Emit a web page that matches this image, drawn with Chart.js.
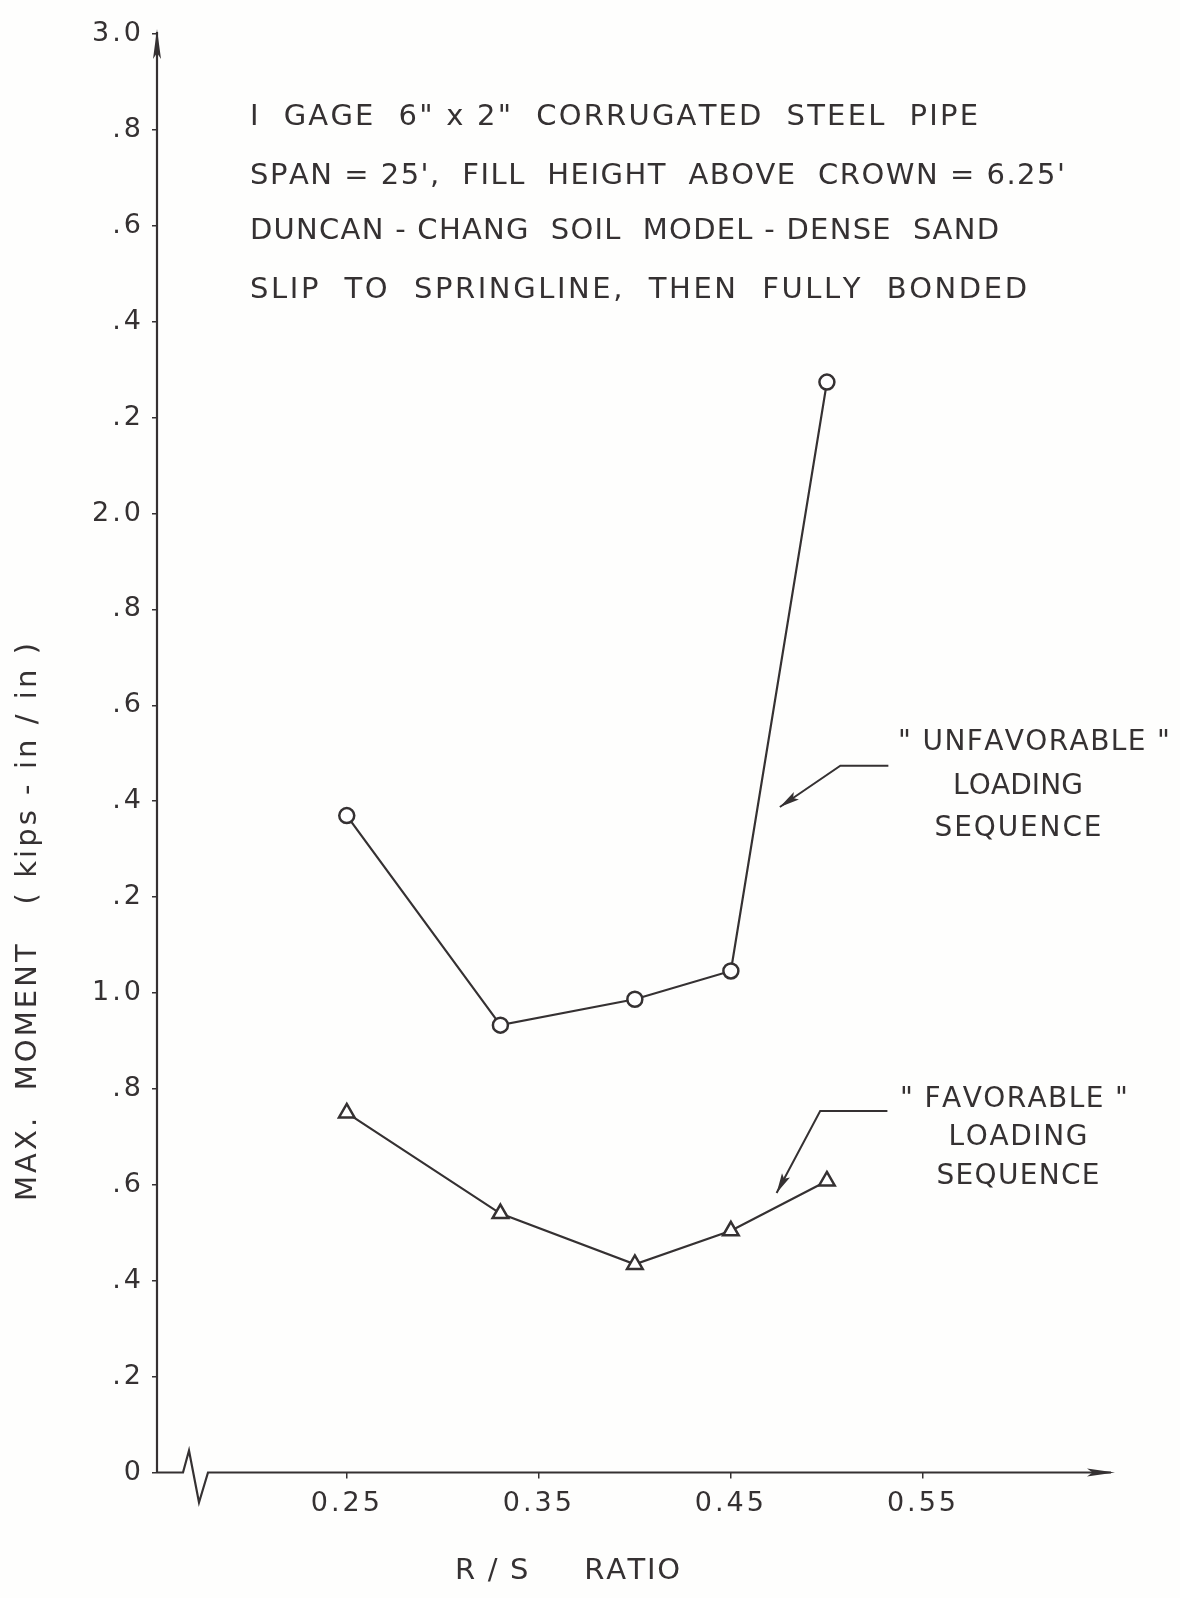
<!DOCTYPE html>
<html>
<head>
<meta charset="utf-8">
<script src="https://cdn.jsdelivr.net/npm/chart.js@4.4.0/dist/chart.umd.min.js"></script>
<style>
  html, body { margin: 0; padding: 0; background: #fefefd; overflow: hidden; }
  canvas { display: block; }
</style>
</head>
<body>
<canvas id="myChart" width="1180" height="1598"></canvas>
<script>
// values
const rsRatio = [0.25, 0.33, 0.40, 0.45, 0.50];
const unfavorableMoment = [1.37, 0.933, 0.987, 1.046, 2.274];
const favorableMoment = [0.75, 0.54, 0.434, 0.504, 0.608];

const xTickValues = [0.25, 0.35, 0.45, 0.55];
const xTickLabels = ['0.25', '0.35', '0.45', '0.55'];
const yTickValues = [0, 0.2, 0.4, 0.6, 0.8, 1.0, 1.2, 1.4, 1.6, 1.8, 2.0, 2.2, 2.4, 2.6, 2.8, 3.0];
const yTickLabels = ['0', '.2', '.4', '.6', '.8', '1.0', '.2', '.4', '.6', '.8', '2.0', '.2', '.4', '.6', '.8', '3.0'];

const headerLines = [
  'I  GAGE  6" x 2"  CORRUGATED  STEEL  PIPE',
  'SPAN = 25\',  FILL  HEIGHT  ABOVE  CROWN = 6.25\'',
  'DUNCAN - CHANG  SOIL  MODEL - DENSE  SAND',
  'SLIP  TO  SPRINGLINE,  THEN  FULLY  BONDED'
];
const unfavorableLabel = ['" UNFAVORABLE "', 'LOADING', 'SEQUENCE'];
const favorableLabel = ['" FAVORABLE "', 'LOADING', 'SEQUENCE'];
const xTitle = 'R / S     RATIO';
const yTitle = 'MAX.  MOMENT   ( kips - in / in )';

const ink = '#353132';
const FONT = '"DejaVu Sans", "Liberation Sans", sans-serif';

const pts = (xs, ys) => xs.map((x, i) => ({ x: x, y: ys[i] }));

// draw text stretched to a given width by spreading the letters
function spaced(ctx, text, x, y, width, align) {
  const chars = [...text];
  let natural = 0;
  chars.forEach(c => natural += ctx.measureText(c).width);
  const extra = chars.length > 1 ? (width - natural) / (chars.length - 1) : 0;
  let cx = align === 'center' ? x - width / 2 : x;
  ctx.textAlign = 'left';
  chars.forEach(c => {
    ctx.fillText(c, cx, y);
    cx += ctx.measureText(c).width + extra;
  });
}

function arrowHead(ctx, tipX, tipY, fromX, fromY, len, half) {
  const a = Math.atan2(tipY - fromY, tipX - fromX);
  ctx.beginPath();
  ctx.moveTo(tipX, tipY);
  ctx.lineTo(tipX - len * Math.cos(a) + half * Math.sin(a), tipY - len * Math.sin(a) - half * Math.cos(a));
  ctx.lineTo(tipX - len * Math.cos(a) * 0.8, tipY - len * Math.sin(a) * 0.8);
  ctx.lineTo(tipX - len * Math.cos(a) - half * Math.sin(a), tipY - len * Math.sin(a) + half * Math.cos(a));
  ctx.closePath();
  ctx.fill();
}

// leader arrows in data units: [end, knee, tip]
const unfavorableLeader = [[0.532, 1.474], [0.507, 1.474], [0.4755, 1.388]];
const favorableLeader = [[0.5315, 0.754], [0.4965, 0.754], [0.4738, 0.583]];

const sketch = {
  id: 'sketch',
  beforeDraw(chart) {
    // wider lettering for the tick labels
    chart.ctx.letterSpacing = '3px';
  },
  beforeDatasetsDraw(chart) {
    const ctx = chart.ctx;
    ctx.letterSpacing = '0px';
    const xs = chart.scales.x, ys = chart.scales.y;
    const left = xs.left, bottom = ys.bottom;
    ctx.save();
    ctx.strokeStyle = ink;
    ctx.fillStyle = ink;
    ctx.lineWidth = 2.2;
    ctx.lineJoin = 'miter';
    // y axis with arrow
    ctx.beginPath();
    ctx.moveTo(left, bottom);
    ctx.lineTo(left, ys.top - 2);
    ctx.stroke();
    arrowHead(ctx, left, ys.top - 5, left, bottom, 30, 4);
    // x axis with break mark
    ctx.beginPath();
    ctx.moveTo(left, bottom);
    ctx.lineTo(left + 26, bottom);
    ctx.lineTo(left + 32, bottom - 22);
    ctx.lineTo(left + 42, bottom + 30);
    ctx.lineTo(left + 51, bottom);
    ctx.lineTo(xs.right - 4, bottom);
    ctx.stroke();
    arrowHead(ctx, xs.right, bottom, left, bottom, 28, 4);
    ctx.restore();
  },
  afterDraw(chart) {
    const ctx = chart.ctx;
    ctx.letterSpacing = '0px';
    const xs = chart.scales.x, ys = chart.scales.y;
    ctx.save();
    ctx.fillStyle = ink;
    ctx.strokeStyle = ink;
    ctx.textBaseline = 'middle';

    ctx.font = '29px ' + FONT;
    const headerY = [117, 176, 231, 290];
    const headerW = [728, 815, 749, 777];
    headerLines.forEach((t, i) => spaced(ctx, t, 250, headerY[i], headerW[i], 'left'));

    ctx.font = '28px ' + FONT;
    const unfY = [743, 787, 829];
    const unfW = [272, 130, 167];
    const unfX = [1034, 1018, 1018];
    unfavorableLabel.forEach((t, i) => spaced(ctx, t, unfX[i], unfY[i], unfW[i], 'center'));
    const favY = [1100, 1138, 1177];
    const favW = [228, 139, 163];
    const favX = [1014, 1018, 1018];
    favorableLabel.forEach((t, i) => spaced(ctx, t, favX[i], favY[i], favW[i], 'center'));

    // leader arrows
    ctx.lineWidth = 2;
    [unfavorableLeader, favorableLeader].forEach(ld => {
      const p = ld.map(d => [xs.getPixelForValue(d[0]), ys.getPixelForValue(d[1])]);
      ctx.beginPath();
      ctx.moveTo(p[0][0], p[0][1]);
      ctx.lineTo(p[1][0], p[1][1]);
      ctx.lineTo(p[2][0], p[2][1]);
      ctx.stroke();
      arrowHead(ctx, p[2][0], p[2][1], p[1][0], p[1][1], 20, 4.5);
    });

    // axis titles
    ctx.font = '29px ' + FONT;
    spaced(ctx, xTitle, 455, 1571, 225, 'left');
    ctx.translate(28, 922);
    ctx.rotate(-Math.PI / 2);
    spaced(ctx, yTitle, 0, 0, 558, 'center');
    ctx.restore();
  }
};

const ctx = document.querySelector('#myChart');
const chart = new Chart(ctx, {
  type: 'scatter',
  data: {
    datasets: [
      {
        label: 'Unfavorable',
        data: pts(rsRatio, unfavorableMoment),
        showLine: true,
        borderColor: ink,
        borderWidth: 2.2,
        pointStyle: 'circle',
        pointRadius: 7.5,
        pointBorderWidth: 2.5,
        pointBorderColor: ink,
        pointBackgroundColor: '#ffffff'
      },
      {
        label: 'Favorable',
        data: pts(rsRatio, favorableMoment),
        showLine: true,
        borderColor: ink,
        borderWidth: 2.2,
        pointStyle: 'triangle',
        pointRadius: 9,
        pointBorderWidth: 2.5,
        pointBorderColor: ink,
        pointBackgroundColor: '#ffffff'
      },
      {
        label: 'centres',
        data: pts(rsRatio, unfavorableMoment).concat(pts(rsRatio, favorableMoment)),
        showLine: false,
        pointStyle: 'circle',
        pointRadius: 1.6,
        pointBorderWidth: 0,
        pointBackgroundColor: ink
      }
    ]
  },
  options: {
    responsive: false,
    animation: false,
    devicePixelRatio: 1,
    layout: { padding: { top: 34, right: 65, left: 0, bottom: 0 } },
    plugins: {
      legend: { display: false },
      tooltip: { enabled: false }
    },
    scales: {
      x: {
        type: 'linear',
        min: 0.1512,
        max: 0.65,
        afterFit: s => { s.height = 125.5; },
        afterBuildTicks: s => { s.ticks = xTickValues.map(v => ({ value: v })); },
        grid: { drawOnChartArea: false, drawTicks: true, tickLength: 6, color: ink, lineWidth: 1.5 },
        border: { display: false },
        ticks: {
          autoSkip: false,
          maxRotation: 0,
          padding: 9,
          color: ink,
          font: { family: FONT, size: 27 },
          callback: (v, i) => xTickLabels[i]
        }
      },
      y: {
        type: 'linear',
        min: 0,
        max: 3.0,
        afterFit: s => { s.width = 157; },
        afterBuildTicks: s => { s.ticks = yTickValues.map(v => ({ value: v })); },
        grid: { drawOnChartArea: false, drawTicks: true, tickLength: 5, color: ink, lineWidth: 1.5 },
        border: { display: false },
        ticks: {
          autoSkip: false,
          padding: 8,
          color: ink,
          font: { family: FONT, size: 27 },
          callback: (v, i) => yTickLabels[i]
        }
      }
    }
  },
  plugins: [sketch]
});
</script>
</body>
</html>
